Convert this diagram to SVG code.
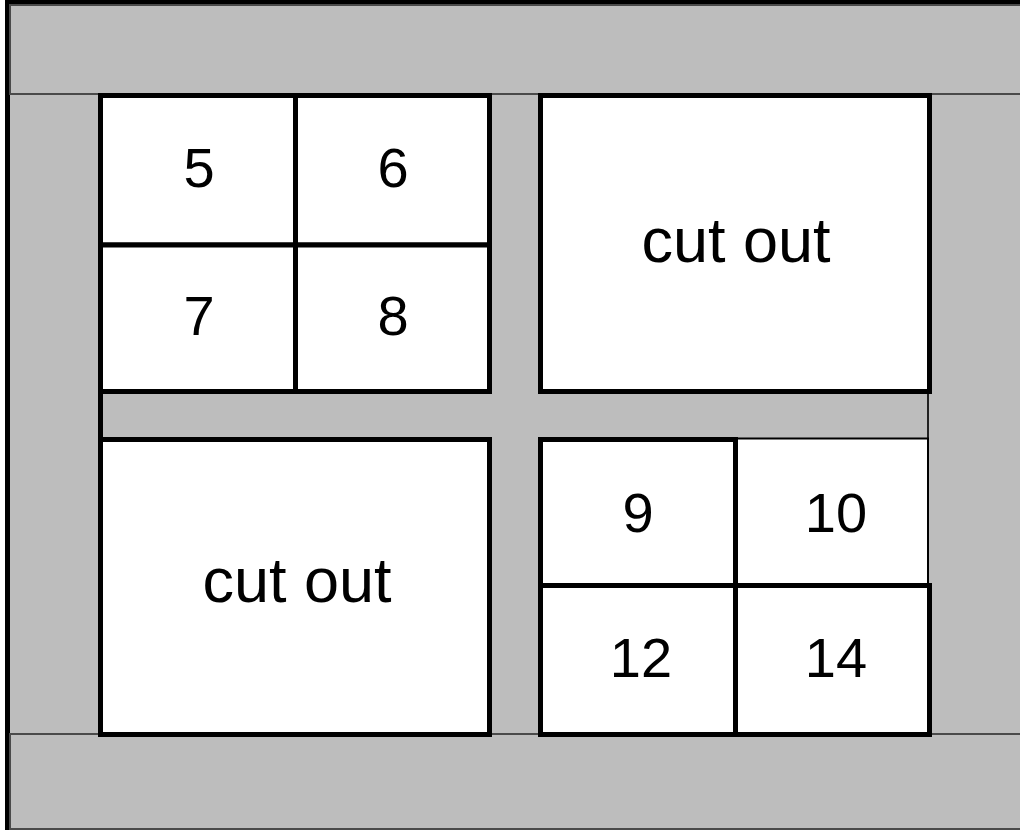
<svg xmlns="http://www.w3.org/2000/svg" width="1020" height="830" viewBox="0 0 1020 830">
<style>
.band{fill:#bdbdbd;stroke:#4a4a4a;stroke-width:2}
.cell{fill:#fff;stroke:#000;stroke-width:5}
.thin{fill:#fff;stroke:#000;stroke-width:2}
.lbl{font-family:"Liberation Sans",Arial,Helvetica,sans-serif;font-size:56px;fill:#000;text-anchor:middle}
.big{font-size:63px}
</style>
<g id="frame">
<rect x="7.5" y="2.5" width="1016" height="830" fill="#bdbdbd" stroke="#000" stroke-width="5"/>
<rect class="band" x="10" y="5" width="1015" height="89"/>
<rect class="band" x="10" y="734" width="1015" height="95"/>
<rect x="100" y="392" width="829" height="46" fill="#bdbdbd"/>
<line x1="928" y1="392" x2="928" y2="440" stroke="#222" stroke-width="2"/>
<line x1="100.5" y1="390" x2="100.5" y2="442" stroke="#000" stroke-width="5"/>
</g>
<g id="cell-5"><rect class="cell" x="100.5" y="95.5" width="195" height="149.5"/><text class="lbl" x="199" y="187">5</text></g>
<g id="cell-6"><rect class="cell" x="295.5" y="95.5" width="194" height="149.5"/><text class="lbl" x="393" y="187">6</text></g>
<g id="cell-7"><rect class="cell" x="100.5" y="245" width="195" height="146.5"/><text class="lbl" x="199" y="335">7</text></g>
<g id="cell-8"><rect class="cell" x="295.5" y="245" width="194" height="146.5"/><text class="lbl" x="393" y="335">8</text></g>
<g id="cutout-1"><rect class="cell" x="540.5" y="95.5" width="389" height="296"/><text class="lbl big" x="736" y="262">cut out</text></g>
<g id="cutout-2"><rect class="cell" x="100.5" y="439.5" width="389" height="295"/><text class="lbl big" x="297" y="602">cut out</text></g>
<g id="cell-10"><rect class="thin" x="735.5" y="438.5" width="192.5" height="147"/><text class="lbl" x="836" y="532">10</text></g>
<g id="cell-9"><rect class="cell" x="540.5" y="439.5" width="195" height="146"/><text class="lbl" x="638" y="532">9</text></g>
<g id="cell-12"><rect class="cell" x="540.5" y="585.5" width="195" height="149"/><text class="lbl" x="641" y="677">12</text></g>
<g id="cell-14"><rect class="cell" x="735.5" y="585.5" width="194" height="149"/><text class="lbl" x="836" y="677">14</text></g>
</svg>
